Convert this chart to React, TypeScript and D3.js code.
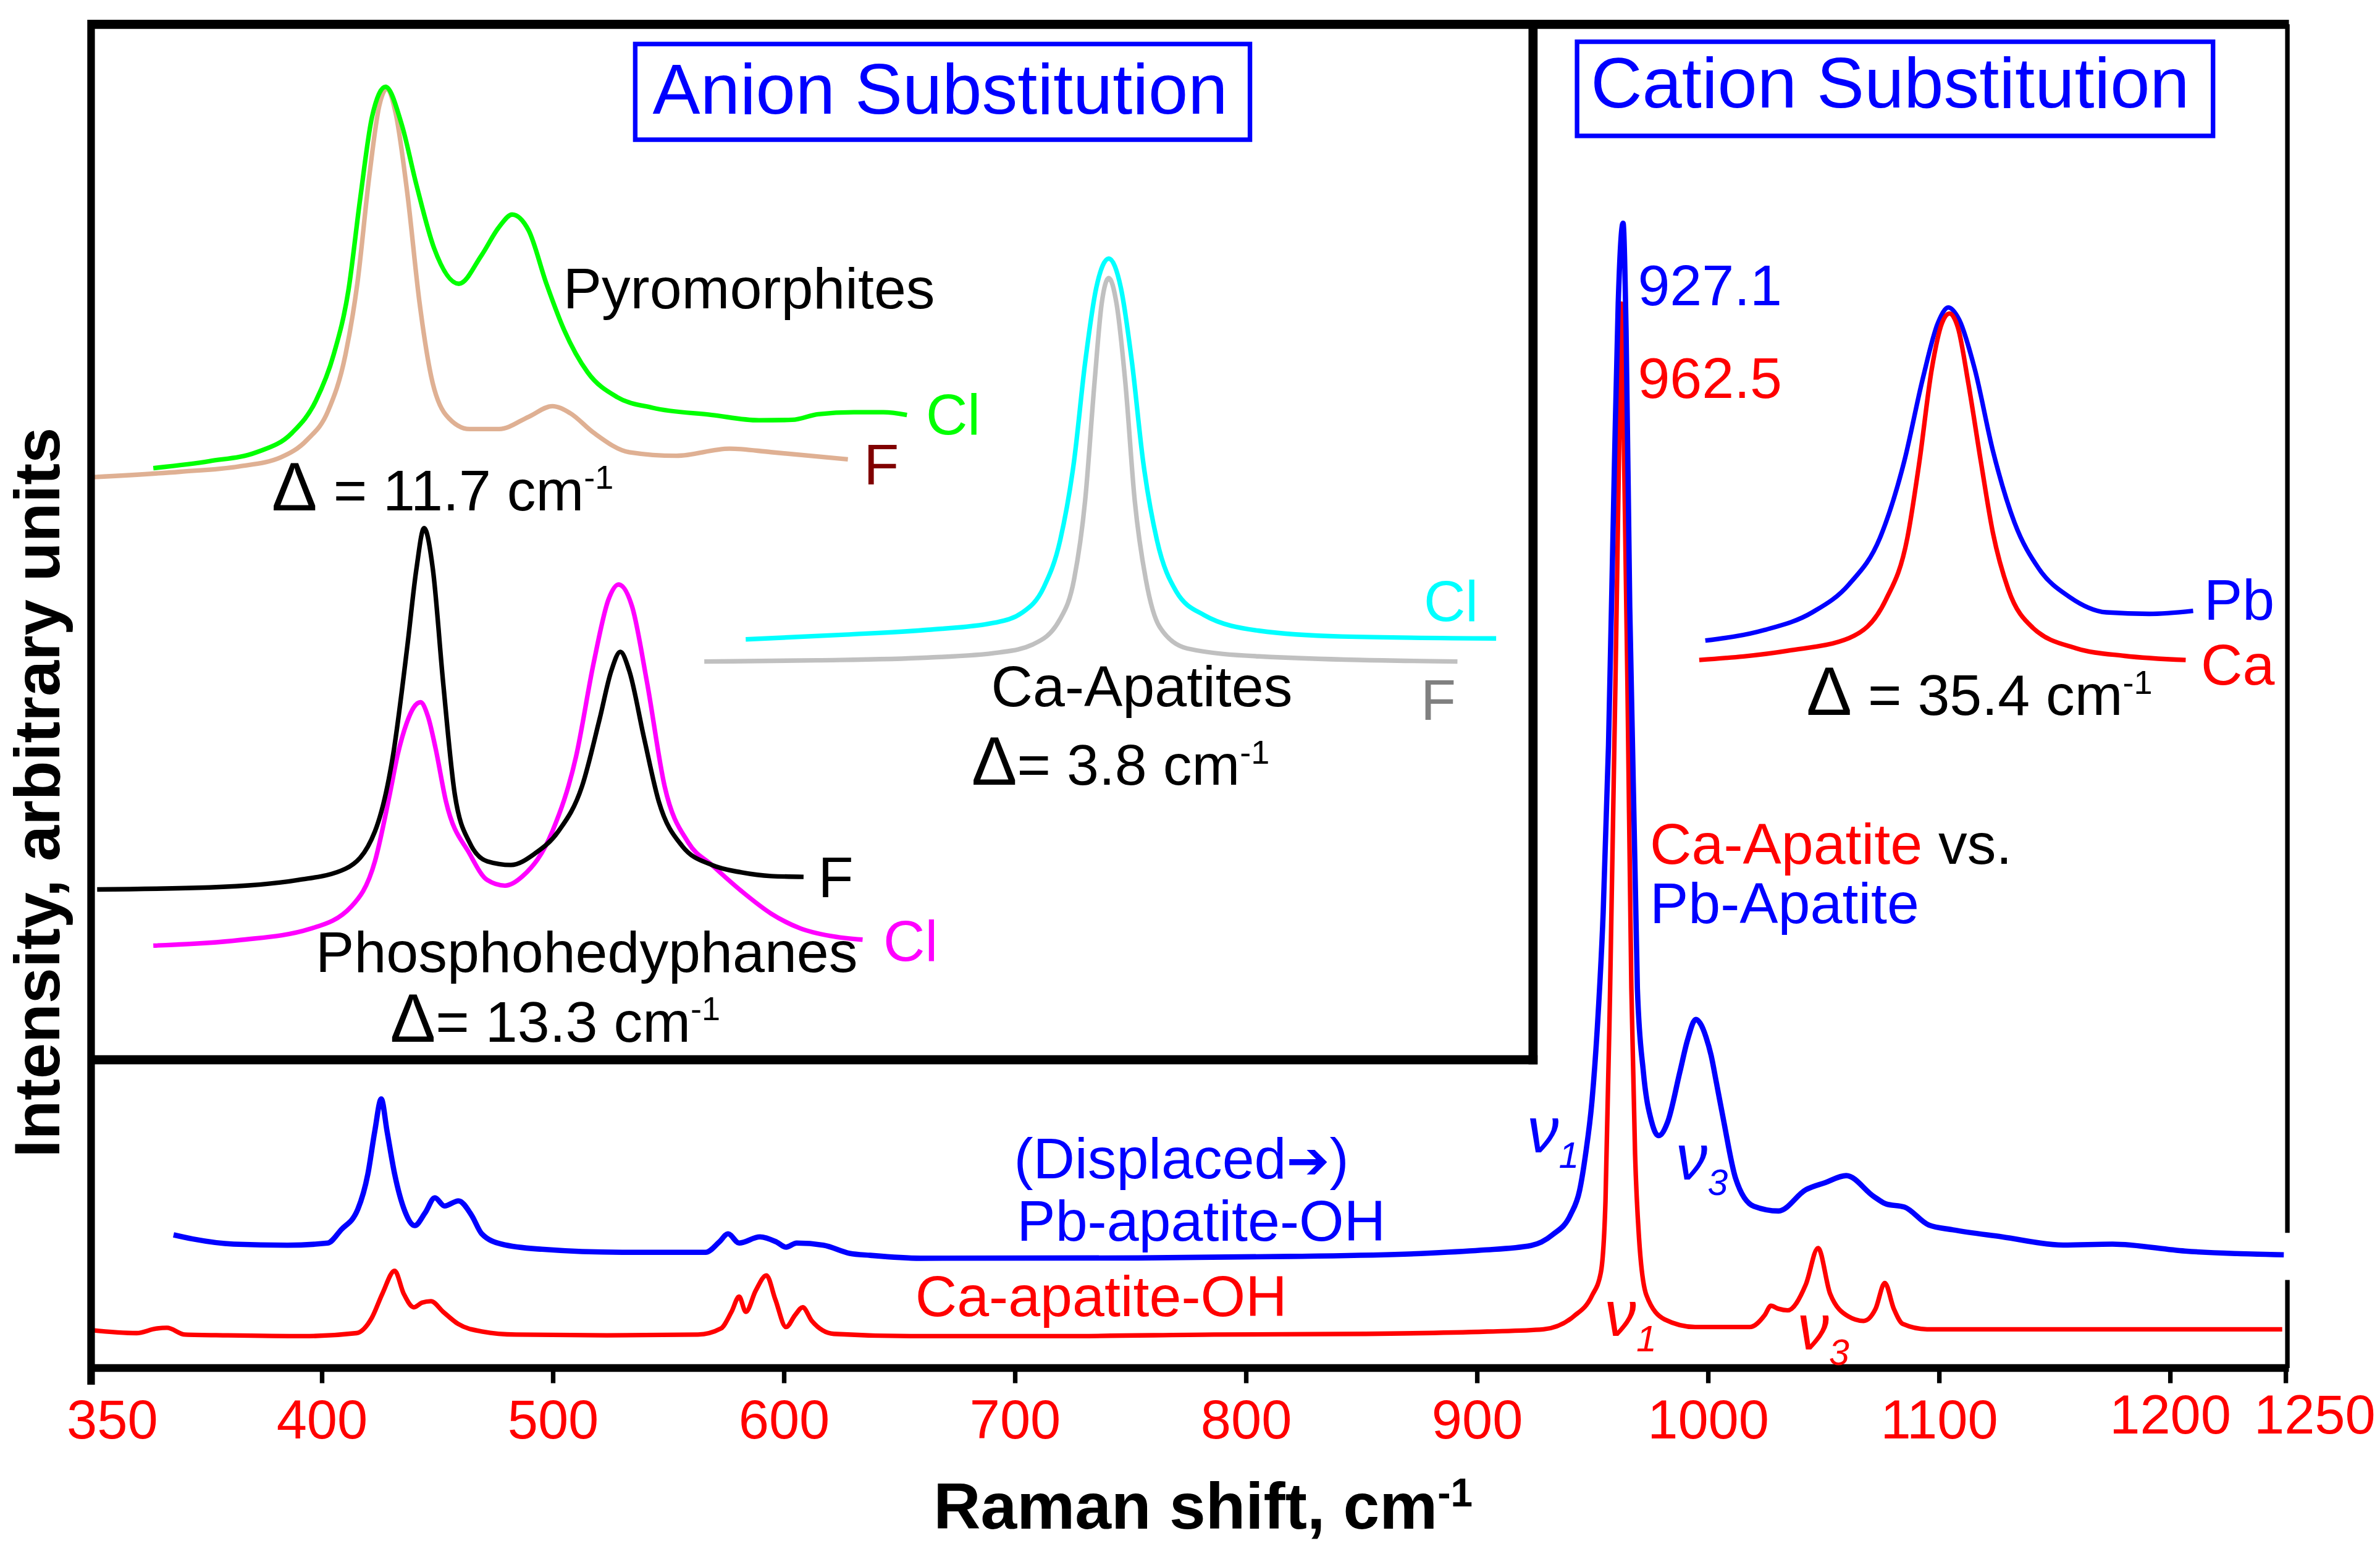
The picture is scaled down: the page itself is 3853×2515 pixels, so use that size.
import React from 'react'
import * as d3 from 'd3'

// Main spectra: [Raman shift (cm-1), intensity (arbitrary units)]
const caApatiteOH: [number, number][] = [
  [300, 25], [319.7, 23], [328.2, 26], [332.8, 26.5], [340.7, 22], [359.1, 21.5], [392, 21],
  [414.9, 23], [421.5, 33], [426.1, 49], [431.4, 64], [435.3, 49], [439.7, 40], [443.2, 43],
  [447.1, 44], [452.4, 37], [458.9, 29], [469.5, 24], [483.9, 22], [523.3, 21.5], [562.7, 22],
  [572.6, 26], [577.2, 37], [580.5, 47], [583.4, 37], [587.7, 51], [592.3, 61], [596.2, 45],
  [600.8, 27], [604.8, 35], [608, 40], [612, 31], [621.5, 22.5], [654.7, 21], [720.4, 21],
  [786, 22], [851.7, 22.5], [904.3, 24], [928.6, 25.5], [941.7, 34], [949.6, 47.5], [953.5, 63],
  [955.5, 110], [957.5, 250], [959.8, 451], [961.5, 616], [962.4, 701], [963.4, 616], [965, 451],
  [966.7, 250], [968.3, 141], [970, 86], [973.2, 48], [981.1, 32], [994.3, 27], [1017.9, 27],
  [1024.5, 35], [1027.1, 41], [1030.4, 39], [1034.3, 38], [1042.2, 55], [1047.5, 79], [1052.7, 49],
  [1060.6, 34], [1067.2, 31], [1072.4, 39], [1076.4, 56], [1080.3, 39], [1084.2, 29], [1094.7, 25.5],
  [1180.1, 25.5], [1248.4, 25.5],
]

const pbApatiteOH: [number, number][] = [
  [335.7, 87.7], [344, 85], [361.7, 81.6], [385, 80.9], [402.4, 82.3], [408.2, 91], [415.5, 104.7],
  [419.8, 127.7], [422.8, 156], [425.6, 177.2], [428.1, 156], [431.4, 127.7], [435.8, 103.3],
  [440.1, 93.8], [444.5, 102], [448.8, 112.1], [453, 106.7], [459, 110.1], [464.7, 100.6],
  [469.1, 88.4], [477.7, 81.6], [495.1, 78.2], [529.9, 76.2], [566, 76.2], [571.9, 83], [575.7, 88.4],
  [580.5, 82.3], [589.5, 86.4], [596.7, 83], [600.8, 79.6], [605.4, 82.3], [617, 80.9], [628.4, 75.5],
  [637.3, 74.2], [659, 72.3], [753.2, 72.5], [818.9, 73.5], [875.4, 75.4], [901.6, 77.6],
  [923.3, 80.7], [932.5, 87.7], [940.4, 101], [944.3, 117], [946.9, 141], [949.6, 175], [952, 225],
  [954.5, 300], [956.8, 410], [959.3, 590], [961, 701], [963.1, 754], [964.4, 684], [966, 501],
  [969.3, 250], [971.9, 195], [975.5, 162], [978.5, 153], [982.4, 162], [987.7, 195], [991, 216],
  [994.6, 229.6], [996.5, 227], [999, 218], [1001.2, 206], [1003.5, 188], [1006.5, 164],
  [1011.8, 125], [1019.7, 106.5], [1030.4, 103.4], [1042.2, 117.4], [1050.4, 122], [1059.7, 126.7],
  [1071.6, 113], [1076.9, 108.1], [1084.9, 106], [1095.4, 94.2], [1105.9, 91], [1127.2, 86.4],
  [1153.6, 81], [1174.9, 81.6], [1206.4, 77], [1249.1, 74.6],
]

const xTickValues = [300, 400, 500, 600, 700, 800, 900, 1000, 1100, 1200, 1250]
const xTickLabels = ['350', '400', '500', '600', '700', '800', '900', '1000', '1100', '1200', '1250']

// Anion substitution inset: [relative shift, relative intensity]
const pyroCl: [number, number][] = [
  [41, 389.7], [78, 394.3], [109.2, 400.2], [132.5, 413], [148.1, 434], [159.8, 464.4], [169.5, 506.5],
  [177.3, 567.2], [185.1, 621], [194, 640.8], [204.6, 616.2], [214.3, 576.5], [226, 534.5],
  [242.3, 511.1], [257.2, 529.8], [268.8, 548.5], [277.4, 556.7], [288.3, 546.2], [300, 511.1],
  [311.6, 480.8], [327.2, 452.7], [346.7, 436.4], [370, 429.4], [409, 424.7], [440, 421.2],
  [462, 421.5], [479, 425.2], [502.5, 426.5], [522, 426.5], [537.5, 424.7],
]
const pyroF: [number, number][] = [
  [2.1, 383.8], [58.6, 387.3], [97.5, 390.8], [124.8, 396.7], [142.3, 408.3], [156, 427], [167.6, 464.4],
  [175.4, 511.1], [183.2, 581.2], [189.8, 628], [194.9, 639.6], [200.7, 623.3], [208.5, 569.5],
  [216.3, 499.4], [224, 450.4], [233.8, 424.7], [249.4, 415.4], [268.8, 415.4], [288.3, 423.5],
  [303.9, 430.5], [315.6, 425.9], [331.1, 413], [354.5, 400.2], [385.6, 397.8], [420.7, 402.5],
  [448, 400.2], [498.6, 395.5],
]
const phosF: [number, number][] = [
  [4, 112.2], [78, 113.5], [136.5, 118.4], [167.6, 125.8], [187, 150.4], [198.8, 199.7], [208.5, 273.6],
  [214.3, 323], [219.4, 350.2], [225.2, 323], [231.9, 249], [239.6, 175], [249.4, 143], [261, 130.7],
  [276.6, 128.3], [292.2, 135.7], [307.8, 150.4], [323.4, 180], [335, 224.3], [342.8, 256.4],
  [348.7, 268.7], [354.5, 256.4], [364.3, 212], [374, 170.2], [389.6, 140.6], [409, 128.3],
  [428.5, 123.4], [448, 121], [469.4, 120.5],
]
const phosCl: [number, number][] = [
  [41, 75.2], [97.5, 78.8], [144.2, 86.2], [171.5, 101], [187, 130.7], [196.8, 175], [202, 201],
  [208, 222], [212.5, 232], [217, 235.5], [222, 226], [227, 205], [233.8, 170.2], [249.4, 135.7],
  [261, 118.4], [272.7, 114.7], [284.4, 121], [303.9, 150.4], [319.5, 199.7], [331.1, 261.3],
  [340.9, 303.2], [347.5, 313], [356.5, 298.3], [366.2, 249], [377.9, 180], [393.5, 143], [409, 128.3],
  [428.5, 111.1], [448, 96.3], [467.4, 86.5], [486.9, 81.6], [508.3, 79.1],
]
const caApCl: [number, number][] = [
  [431.3, 276.9], [496.8, 280], [551.3, 283.2], [594.9, 287.8], [613.1, 294.3], [627.6, 311.1],
  [638.5, 342.3], [647.6, 394.2], [654.9, 459.1], [662.2, 508.2], [670.5, 527.7], [678.5, 508.2],
  [685.8, 459.1], [693.1, 394.2], [702.2, 342.3], [714.9, 308.5], [733.1, 293], [769.4, 282.6],
  [824, 278.8], [925.7, 277.5],
]
const caApF: [number, number][] = [
  [404, 262.3], [478.6, 263.1], [551.3, 264.9], [598.5, 268.3], [620.3, 273.5], [638.5, 290.4],
  [647.6, 316.3], [654.9, 368.2], [661.1, 446.1], [665.8, 498], [670.5, 514.9], [675.6, 498],
  [681.4, 446.1], [687.6, 368.2], [694.9, 316.3], [704, 285.1], [722.2, 270.9], [769.4, 265.7],
  [900.2, 262.3],
]

// Cation substitution close-up of the v1 band
const cationPb: [number, number][] = [
  [23.5, 18.1], [61.8, 24.9], [94, 36.7], [118.3, 55.3], [138.5, 85.6], [154.6, 136.3], [166.7, 190.3],
  [176.8, 227.4], [183.6, 237.5], [190.9, 229.1], [201, 197], [213, 143], [227.2, 95.8], [243.3, 65.4],
  [263.5, 46.8], [287.7, 36.7], [315.9, 35.7], [344.9, 37.7],
]
const cationCa: [number, number][] = [
  [19.5, 5.3], [77.9, 11.4], [118.3, 19.8], [142.5, 45.1], [156.6, 85.6], [164.6, 136.3], [172.7, 197],
  [179.5, 227.4], [184.4, 233.5], [190, 224], [196.9, 186.9], [205, 136.3], [213, 89], [223.1, 51.9],
  [239.2, 26.6], [267.5, 13.1], [299.7, 8], [340, 5.3],
]

const FONT = 'Liberation Sans, Arial, Helvetica, sans-serif'

function Delta({ x, y, value, gap = true }: { x: number; y: number; value: string; gap?: boolean }) {
  return (
    <text x={x} y={y} fontSize={38} fill="#000">
      <tspan fontSize={45}>Δ</tspan>
      {gap ? ' = ' : '= '}
      {value} cm<tspan fontSize={22} dy={-14}>-1</tspan>
    </text>
  )
}

function Nu({ x, y, sub, color }: { x: number; y: number; sub: string; color: string }) {
  return (
    <text x={x} y={y} fontSize={42} fontStyle="italic" fill={color}>
      ν<tspan fontSize={24} dy={10}>{sub}</tspan>
    </text>
  )
}

export default function App() {
  const W = 1568
  const H = 1023.5
  const left = 60
  const right = 1506
  const top = 16
  const bottom = 901

  // main axes
  const x = d3.scaleLinear().domain([300, 1250]).range([left, right])
  const y = d3.scaleLinear().domain([0, 887]).range([bottom, 14])
  const mainLine = d3
    .line<[number, number]>()
    .x((d) => x(d[0]))
    .y((d) => y(d[1]))
    .curve(d3.curveMonotoneX)

  // inset (anion substitution) frame
  const ix = d3.scaleLinear().domain([0, 950]).range([left, 1010])
  const iy = d3.scaleLinear().domain([0, 684]).range([698, 14])
  const insetLine = d3
    .line<[number, number]>()
    .x((d) => ix(d[0]))
    .y((d) => iy(d[1]))
    .curve(d3.curveMonotoneX)

  // cation close-up frame
  const cx = d3.scaleLinear().domain([0, 350]).range([1100, 1450])
  const cy = d3.scaleLinear().domain([0, 440]).range([440, 0])
  const cationLine = d3
    .line<[number, number]>()
    .x((d) => cx(d[0]))
    .y((d) => cy(d[1]))
    .curve(d3.curveMonotoneX)

  const insetCurves = [
    { data: pyroF, color: '#dfb093' },
    { data: pyroCl, color: '#00ff00' },
    { data: phosCl, color: '#ff00ff' },
    { data: phosF, color: '#000000' },
    { data: caApF, color: '#c0c0c0' },
    { data: caApCl, color: '#00ffff' },
  ]

  return (
    <div style={{ position: 'absolute', left: 0, top: 0 }}>
      <svg
        width={3853}
        height={2515}
        viewBox={`0 0 ${W} ${H}`}
        style={{ display: 'block', fontFamily: FONT }}
      >
        <rect x={0} y={0} width={W} height={H} fill="#fff" />

        {/* main spectra */}
        <path d={mainLine(caApatiteOH) || ''} fill="none" stroke="#ff0000" strokeWidth={3} strokeLinejoin="round" />
        <path d={mainLine(pbApatiteOH) || ''} fill="none" stroke="#0000ff" strokeWidth={3.5} strokeLinejoin="round" />

        {/* cation close-up */}
        <path d={cationLine(cationPb) || ''} fill="none" stroke="#0000ff" strokeWidth={3} />
        <path d={cationLine(cationCa) || ''} fill="none" stroke="#ff0000" strokeWidth={3} />

        {/* anion inset curves */}
        {insetCurves.map((c, i) => (
          <path key={i} d={insetLine(c.data) || ''} fill="none" stroke={c.color} strokeWidth={3} />
        ))}

        {/* frame */}
        <line x1={left - 2} x2={right + 2} y1={top} y2={top} stroke="#000" strokeWidth={6} />
        <line x1={left} x2={left} y1={top - 3} y2={912} stroke="#000" strokeWidth={5} />
        <line x1={right + 1} x2={right + 1} y1={top} y2={812} stroke="#000" strokeWidth={3} />
        <line x1={right + 1} x2={right + 1} y1={843} y2={bottom} stroke="#000" strokeWidth={3} />
        <line x1={left - 2} x2={right + 2} y1={bottom} y2={bottom} stroke="#000" strokeWidth={5} />
        <line x1={1010} x2={1010} y1={top - 3} y2={701} stroke="#000" strokeWidth={6} />
        <line x1={left - 2} x2={1013} y1={698} y2={698} stroke="#000" strokeWidth={6} />

        {/* x ticks */}
        {xTickValues.map((v, i) => {
          const last = i === xTickValues.length - 1
          const dx = i === 0 ? 14 : last ? 19 : 0
          const ty = i >= xTickValues.length - 2 ? 944 : 947.5
          return (
            <g key={v}>
              <line x1={x(v)} x2={x(v)} y1={bottom} y2={911} stroke="#000" strokeWidth={3} />
              <text x={x(v) + dx} y={ty} fontSize={36} fill="#ff0000" textAnchor="middle">
                {xTickLabels[i]}
              </text>
            </g>
          )
        })}

        {/* axis titles */}
        <text x={615} y={1007} fontSize={43} fontWeight="bold" fill="#000">
          Raman shift, cm<tspan fontSize={26} dy={-15}>-1</tspan>
        </text>
        <text
          transform="translate(39,522) rotate(-90)"
          fontSize={42.5}
          fontWeight="bold"
          fill="#000"
          textAnchor="middle"
        >
          Intensity, arbitrary units
        </text>

        {/* title boxes */}
        <rect x={418.5} y={29} width={405} height={63} fill="none" stroke="#0000ff" strokeWidth={3} />
        <text x={430} y={75} fontSize={47} fill="#0000ff">Anion Substitution</text>
        <rect x={1039} y={27.5} width={419} height={62} fill="none" stroke="#0000ff" strokeWidth={3} />
        <text x={1048} y={71} fontSize={47} fill="#0000ff">Cation Substitution</text>

        {/* anion inset labels */}
        <text x={371} y={203} fontSize={38} fill="#000">Pyromorphites</text>
        <text x={610} y={286} fontSize={38} fill="#00ff00">Cl</text>
        <text x={569} y={319} fontSize={38} fill="#800000">F</text>
        <Delta x={179} y={336} value="11.7" />
        <text x={539} y={591} fontSize={38} fill="#000">F</text>
        <text x={582} y={633} fontSize={38} fill="#ff00ff">Cl</text>
        <text x={208} y={640} fontSize={38} fill="#000">Phosphohedyphanes</text>
        <Delta x={257} y={686} value="13.3" gap={false} />
        <text x={938} y={409} fontSize={38} fill="#00ffff">Cl</text>
        <text x={936} y={474} fontSize={38} fill="#808080">F</text>
        <text x={653} y={465} fontSize={38} fill="#000">Ca-Apatites</text>
        <Delta x={640} y={517} value="3.8" gap={false} />

        {/* cation labels */}
        <text x={1079} y={201} fontSize={38} fill="#0000ff">927.1</text>
        <text x={1079} y={262} fontSize={38} fill="#ff0000">962.5</text>
        <text x={1452} y={408} fontSize={38} fill="#0000ff">Pb</text>
        <text x={1450} y={451} fontSize={38} fill="#ff0000">Ca</text>
        <Delta x={1190} y={471} value="35.4" />

        {/* main labels */}
        <text x={1087} y={569} fontSize={38}>
          <tspan fill="#ff0000">Ca-Apatite</tspan>
          <tspan fill="#000"> vs.</tspan>
        </text>
        <text x={1087} y={608} fontSize={38} fill="#0000ff">Pb-Apatite</text>
        <text x={668} y={776} fontSize={38} fill="#0000ff">
          (Displaced<tspan fontFamily="DejaVu Sans" fontSize={34}>➔</tspan>)
        </text>
        <text x={670} y={817} fontSize={38} fill="#0000ff">Pb-apatite-OH</text>
        <text x={603} y={867} fontSize={38} fill="#ff0000">Ca-apatite-OH</text>

        <Nu x={1006} y={759} sub="1" color="#0000ff" />
        <Nu x={1104} y={777} sub="3" color="#0000ff" />
        <Nu x={1057} y={880} sub="1" color="#ff0000" />
        <Nu x={1184} y={889} sub="3" color="#ff0000" />
      </svg>
    </div>
  )
}
